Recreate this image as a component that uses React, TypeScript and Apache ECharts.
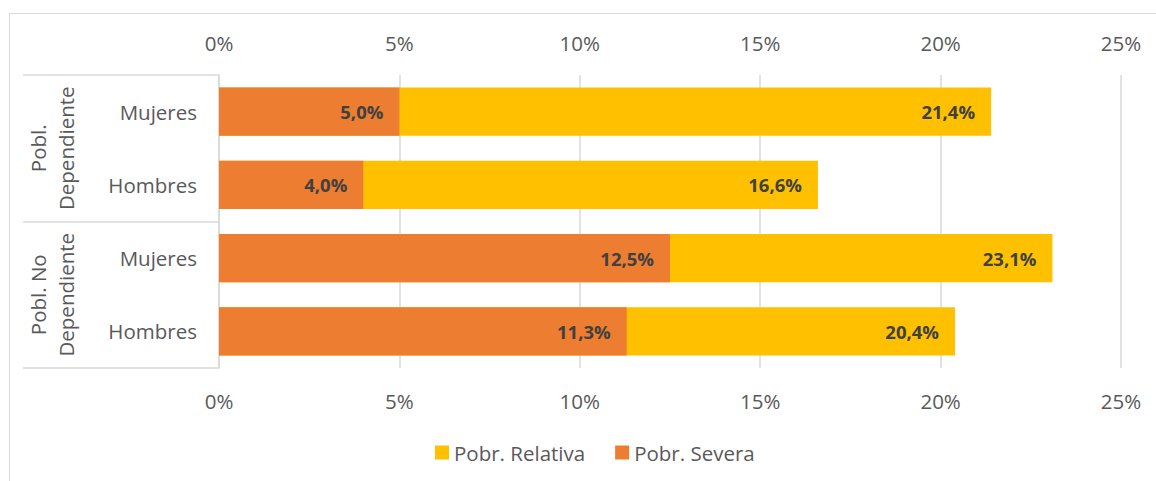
import React, { useEffect, useRef } from "react";
import * as echarts from "echarts";

const groups = ["Pobl.\nDependiente", "Pobl. No\nDependiente"];
const categories = ["Mujeres", "Hombres", "Mujeres", "Hombres"];
const categoryIds = ["dep-m", "dep-h", "nodep-m", "nodep-h"];
const relativa = [21.4, 16.6, 23.1, 20.4];
const severa = [5.0, 4.0, 12.5, 11.3];
const seriesNames = ["Pobr. Relativa", "Pobr. Severa"];
const xTicks = { min: 0, max: 25, interval: 5 };

const FONT = "Open Sans";
const FS = 20.5;
const AXIS_COLOR = "#595959";
const GRID_COLOR = "#d9d9d9";

const fmtPct = (v: number) => v.toFixed(1).replace(".", ",") + "%";

export default function App() {
  const ref = useRef<HTMLDivElement>(null);
  useEffect(() => {
    if (!ref.current) return;
    const chart = echarts.init(ref.current, undefined, { renderer: "svg" });
    const labelStyle = {
      show: true,
      position: "insideRight" as const,
      distance: 16,
      fontFamily: FONT,
      fontWeight: "bold" as const,
      fontSize: 18.5,
      color: "#404040",
      formatter: (p: any) => fmtPct(p.value),
    };
    const xAxisBase = {
      type: "value" as const,
      min: xTicks.min,
      max: xTicks.max,
      interval: xTicks.interval,
      axisLine: { show: false },
      axisTick: { show: false },
      axisLabel: {
        formatter: "{value}%",
        color: AXIS_COLOR,
        fontFamily: FONT,
        fontSize: FS,
        margin: 22,
      },
    };
    chart.setOption({
      animation: false,
      textStyle: { fontFamily: FONT },
      grid: { left: 219, right: 35, top: 75, bottom: 113, containLabel: false },
      legend: {
        data: seriesNames,
        left: 430,
        top: 437,
        icon: "rect",
        itemWidth: 14,
        itemHeight: 14,
        itemGap: 30,
        textStyle: { color: AXIS_COLOR, fontFamily: FONT, fontSize: FS },
      },
      xAxis: [
        {
          ...xAxisBase,
          position: "top",
          splitLine: { show: true, lineStyle: { color: GRID_COLOR, width: 1.5 } },
        },
        {
          ...xAxisBase,
          position: "bottom",
          splitLine: { show: false },
        },
      ],
      yAxis: [
        {
          type: "category",
          data: categoryIds,
          inverse: true,
          position: "left",
          axisLine: { show: true, lineStyle: { color: GRID_COLOR, width: 1.5 } },
          axisTick: { show: false },
          axisLabel: {
            interval: 0,
            color: AXIS_COLOR,
            fontFamily: FONT,
            fontSize: FS,
            margin: 22,
            formatter: (v: string) => categories[categoryIds.indexOf(v)],
          },
        },
        {
          type: "category",
          data: groups,
          inverse: true,
          position: "left",
          axisLine: { show: false },
          axisTick: {
            show: true,
            interval: 0,
            inside: false,
            length: 196,
            alignWithLabel: false,
            lineStyle: { color: GRID_COLOR, width: 1.5 },
          },
          axisLabel: {
            interval: 0,
            hideOverlap: false,
            rotate: 90,
            color: AXIS_COLOR,
            fontFamily: FONT,
            fontSize: FS,
            lineHeight: 28,
            margin: 139,
          },
        },
      ],
      series: [
        {
          name: seriesNames[0],
          type: "bar",
          xAxisIndex: 0,
          yAxisIndex: 0,
          data: relativa,
          barCategoryGap: "34%",
          itemStyle: { color: "#FFC000" },
          label: labelStyle,
        },
        {
          name: seriesNames[1],
          type: "bar",
          xAxisIndex: 0,
          yAxisIndex: 0,
          data: severa,
          barGap: "-100%",
          barCategoryGap: "34%",
          itemStyle: { color: "#ED7D31" },
          label: labelStyle,
        },
      ],
    });
    return () => chart.dispose();
  }, []);

  return (
    <div style={{ position: "fixed", left: 0, top: 0, width: 1156, height: 481, overflow: "hidden", background: "#fff" }}>
      <div
        style={{
          position: "absolute",
          left: 9,
          top: 13,
          width: 1300,
          height: 700,
          border: "1px solid #d9d9d9",
          boxSizing: "border-box",
        }}
      />
      <div ref={ref} style={{ position: "absolute", left: 0, top: 0, width: 1156, height: 481 }} />
    </div>
  );
}
